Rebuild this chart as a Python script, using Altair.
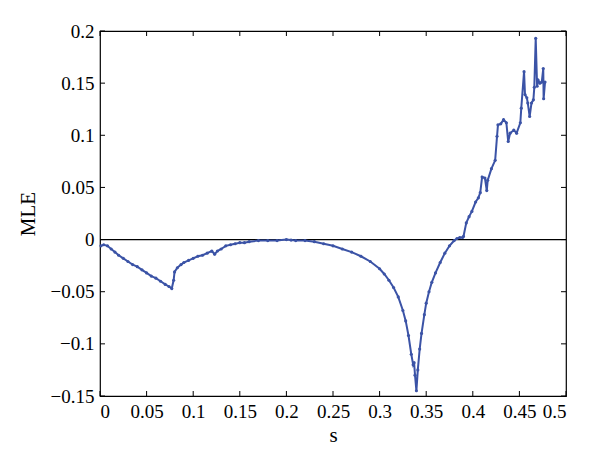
import altair as alt
import pandas as pd

# ---- data ----
s_vals = [
    0.001, 0.004, 0.008, 0.012, 0.016, 0.020, 0.025, 0.030, 0.035, 0.040,
    0.045, 0.050, 0.055, 0.060, 0.065, 0.070, 0.074, 0.077, 0.079, 0.080,
    0.083, 0.087, 0.090, 0.095, 0.100, 0.105, 0.110, 0.115, 0.120, 0.123,
    0.126, 0.130, 0.135, 0.140, 0.145, 0.150, 0.155, 0.160, 0.170, 0.180,
    0.190, 0.200, 0.205, 0.210, 0.220, 0.230, 0.240, 0.250, 0.260, 0.270,
    0.280, 0.290, 0.300, 0.305, 0.310, 0.315, 0.320, 0.325, 0.328, 0.331,
    0.334, 0.336, 0.337, 0.338, 0.3395, 0.341, 0.343, 0.345, 0.348, 0.350,
    0.353, 0.356, 0.360, 0.365, 0.370, 0.375, 0.380, 0.383, 0.386, 0.389,
    0.390, 0.393, 0.396, 0.399, 0.403, 0.406, 0.408, 0.410, 0.413, 0.415,
    0.416, 0.420, 0.424, 0.426, 0.427, 0.430, 0.433, 0.436, 0.438, 0.440,
    0.444, 0.447, 0.451, 0.452, 0.455, 0.456, 0.458, 0.459, 0.461, 0.463,
    0.465, 0.466, 0.4675, 0.469, 0.470, 0.472, 0.474, 0.4756, 0.476, 0.4775,
]
mle_vals = [
    -0.006, -0.005, -0.006, -0.009, -0.012, -0.015, -0.018, -0.021, -0.024, -0.026,
    -0.029, -0.032, -0.035, -0.037, -0.040, -0.043, -0.045, -0.047, -0.039, -0.031,
    -0.027, -0.024, -0.022, -0.020, -0.018, -0.016, -0.015, -0.013, -0.011, -0.014,
    -0.011, -0.009, -0.006, -0.005, -0.004, -0.003, -0.003, -0.002, -0.001, -0.001,
    -0.001, 0.000, -0.0005, -0.001, -0.001, -0.002, -0.004, -0.006, -0.009, -0.012,
    -0.016, -0.021, -0.028, -0.033, -0.039, -0.046, -0.055, -0.068, -0.078, -0.092,
    -0.110, -0.120, -0.118, -0.130, -0.145, -0.125, -0.105, -0.090, -0.072, -0.061,
    -0.050, -0.041, -0.032, -0.022, -0.013, -0.006, -0.001, 0.001, 0.002, 0.002,
    0.003, 0.016, 0.022, 0.027, 0.036, 0.040, 0.045, 0.060, 0.059, 0.047,
    0.057, 0.068, 0.076, 0.099, 0.110, 0.111, 0.115, 0.112, 0.094, 0.102,
    0.105, 0.102, 0.112, 0.126, 0.161, 0.139, 0.136, 0.131, 0.118, 0.131,
    0.134, 0.146, 0.193, 0.147, 0.153, 0.150, 0.151, 0.164, 0.135, 0.151,
]
x_ticks = [0, 0.05, 0.1, 0.15, 0.2, 0.25, 0.3, 0.35, 0.4, 0.45, 0.5]
y_ticks = [-0.15, -0.1, -0.05, 0, 0.05, 0.1, 0.15, 0.2]

W, H = 466, 365
FONT = "Liberation Serif"
BLUE = "#3b53a6"

df = pd.DataFrame({"s": s_vals, "MLE": mle_vals})
xt = pd.DataFrame({"t": x_ticks})
yt = pd.DataFrame({"t": y_ticks})

xs = alt.Scale(domain=[0, 0.5], nice=False, zero=False)
ys = alt.Scale(domain=[-0.15, 0.2], nice=False, zero=False)

line = alt.Chart(df).mark_line(
    color=BLUE, strokeWidth=2,
    point=alt.OverlayMarkDef(filled=True, size=10, color=BLUE),
).encode(
    x=alt.X("s:Q", scale=xs, axis=alt.Axis(
        values=x_ticks, format="~g", title="s", titleY=45,
        titleBaseline="alphabetic")),
    y=alt.Y("MLE:Q", scale=ys, axis=alt.Axis(
        values=y_ticks, format="~g", title="MLE", titleX=-72, titleY=H / 2,
        titleAngle=-90, titleAlign="center", titleBaseline="middle")),
)

zero = alt.Chart(pd.DataFrame({"z": [0]})).mark_rule(
    color="black", strokeWidth=1.2).encode(y=alt.Y("z:Q", scale=ys))

tick_style = dict(color="black", strokeWidth=1)
xb = alt.Chart(xt).mark_rule(**tick_style).encode(
    x=alt.X("t:Q", scale=xs), y=alt.value(H), y2=alt.value(H - 5))
xtp = alt.Chart(xt).mark_rule(**tick_style).encode(
    x=alt.X("t:Q", scale=xs), y=alt.value(0), y2=alt.value(5))
yl = alt.Chart(yt).mark_rule(**tick_style).encode(
    y=alt.Y("t:Q", scale=ys), x=alt.value(0), x2=alt.value(5))
yr = alt.Chart(yt).mark_rule(**tick_style).encode(
    y=alt.Y("t:Q", scale=ys), x=alt.value(W), x2=alt.value(W - 5))

chart = alt.layer(zero, xb, xtp, yl, yr, line).properties(
    width=W, height=H,
    autosize=alt.AutoSizeParams(type="none"),
    padding={"left": 92, "top": 23, "right": 26, "bottom": 60},
    background="white",
).configure_view(
    stroke="black", strokeWidth=1.2
).configure_axis(
    grid=False, domain=False, ticks=False, tickSize=0,
    labelFont=FONT, labelFontSize=19, labelColor="black", labelPadding=6,
    titleFont=FONT, titleFontSize=21, titleFontWeight="normal", titleColor="black",
)

chart.save("out.html", embed_options={"renderer": "svg", "actions": False})
